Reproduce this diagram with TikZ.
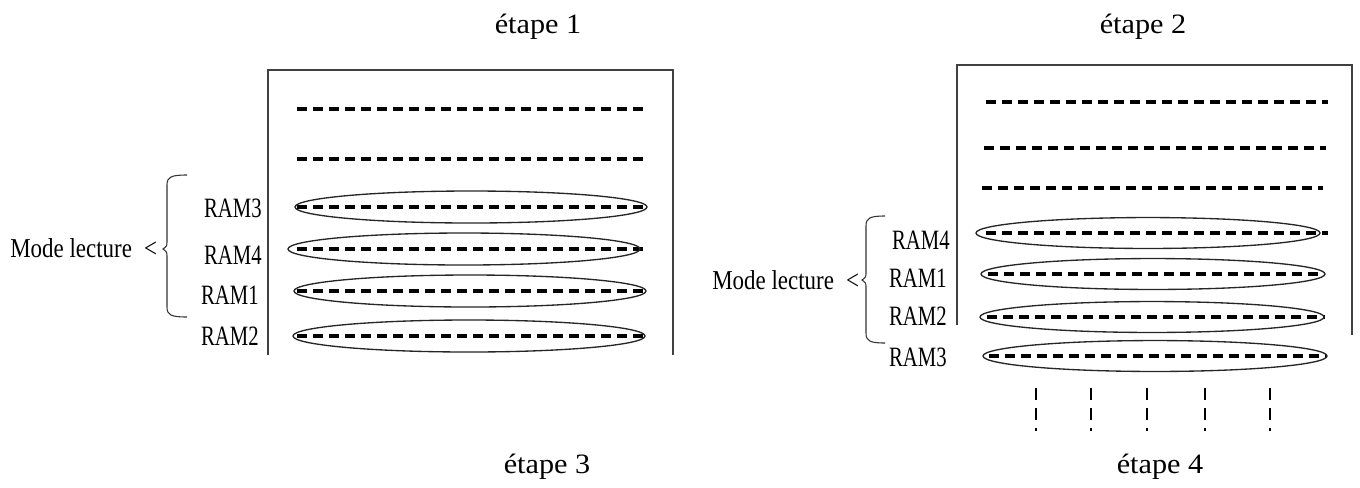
\documentclass[tikz,border=0pt]{standalone}
\usepackage{fontspec}
\setmainfont{Liberation Serif}
\newfontfamily\titlefont[FakeStretch=1.08]{Liberation Serif}
\newfontfamily\ramfont[FakeStretch=0.74]{Liberation Serif}
\newfontfamily\modefont[FakeStretch=0.84]{Liberation Serif}

\tikzset{
  title/.style={font=\titlefont\fontsize{21}{24}\selectfont},
  ramlabel/.style={font=\ramfont\fontsize{21}{24}\selectfont, anchor=east},
  modelabel/.style={font=\modefont\fontsize{20.5}{24}\selectfont, anchor=west},
  frame/.style={line width=0.9pt, black!75},
  memline/.style={line width=2.3pt, dash pattern=on 7.5pt off 4.5pt},
  ramring/.style={line width=1pt, black!85},
  vdash/.style={line width=1.8pt, dash pattern=on 9pt off 6pt},
  bracestyle/.style={line width=0.8pt, black!80}
}

% curly brace opening to the right: vertical x, tail x, top, middle, bottom
\newcommand\modebrace[5]{%
  \draw[bracestyle] (#2,#3) .. controls (#1+4,#3) and (#1,#3+2) .. (#1,#3+10)
    -- (#1,#4-8) .. controls (#1,#4-3) .. (#1-4,#4)
    .. controls (#1,#4+3) .. (#1,#4+8)
    -- (#1,#5-10) .. controls (#1,#5-2) and (#1+4,#5) .. (#2,#5);}

\begin{document}
\begin{tikzpicture}[x=0.75pt, y=-0.75pt, every node/.style={inner sep=0pt}]
  \useasboundingbox (0,0) rectangle (1360,487);

  \node[title] (e1) at (538,27) {étape 1};
  \node[title] (e2) at (1143,27) {étape 2};
  \node[title] (e3) at (547,467) {étape 3};
  \node[title] (e4) at (1160,467) {étape 4};

  % first memory
  \draw[frame] (268,355) -- (268,70) -- (673,70) -- (673,355);
  \foreach \y in {109,159,207,249,291,336}
    \draw[memline] (297,\y) -- (648,\y);
  \foreach \cx/\y/\ly/\lx/\n in {471/207/208/262/3,464/249/255/262/4,470/291/295/259/1,469/336/336/259/2} {
    \draw[ramring] (\cx,\y) ellipse [x radius=132pt, y radius=12pt];
    \node[ramlabel] (a\n) at (\lx,\ly) {RAM\n};
  }
  \modebrace{167}{187}{175}{249}{317}
  \node[modelabel] (ma) at (10,248.5) {Mode lecture\hskip 9pt<};

  % second memory
  \draw[frame] (957,325) -- (957,65) -- (1352,65) -- (1352,335);
  \foreach \y/\xa/\xb in {102/986/1328,148/984/1326,188/982/1323,233/986/1328,274/988/1325,317/987/1325,356/989/1327}
    \draw[memline] (\xa,\y) -- (\xb,\y);
  \foreach \cx/\y/\ly/\lx/\n in {1148/233/240/950/4,1153/274/278/947/1,1152/317/316/947/2,1155/356/357/947/3} {
    \draw[ramring] (\cx,\y) ellipse [x radius=129pt, y radius=11.6pt];
    \node[ramlabel] (b\n) at (\lx,\ly) {RAM\n};
  }
  \modebrace{866}{885}{216}{280}{343}
  \node[modelabel] (mb) at (712,280) {Mode lecture\hskip 9pt<};

  \foreach \x in {1036,1091,1147,1205,1270}
    \draw[vdash] (\x,388) -- (\x,431);
\end{tikzpicture}
\end{document}
